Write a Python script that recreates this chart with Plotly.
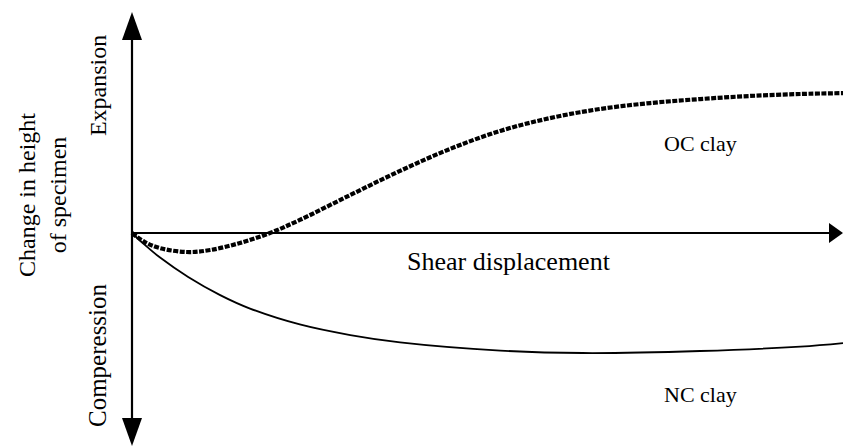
import plotly.graph_objects as go

# Schematic data (arbitrary units): shear displacement vs change in height
oc_x = [0, 0.18, 0.39, 0.77, 1.10, 1.52, 1.94, 2.36, 3.07, 3.77, 4.47, 5.18, 5.88, 6.58, 7.29, 7.99, 8.69, 9.40, 10.0]
oc_y = [0, -0.41, -0.68, -0.86, -0.77, -0.45, 0.0, 0.59, 1.72, 2.81, 3.80, 4.62, 5.20, 5.61, 5.88, 6.06, 6.20, 6.29, 6.33]

nc_x = [0, 0.18, 0.39, 0.79, 1.24, 1.66, 2.36, 3.07, 3.77, 5.18, 6.34, 7.99, 9.40, 10.0]
nc_y = [0, -0.54, -1.10, -1.99, -2.81, -3.42, -4.14, -4.62, -4.95, -5.32, -5.43, -5.34, -5.14, -4.98]

x_label = "Shear displacement"
y_label = "Change in height<br>of specimen"
up_label = "Expansion"
down_label = "Comperession"
oc_label = "OC clay"
nc_label = "NC clay"

FONT = "Liberation Serif"

fig = go.Figure()
fig.add_trace(go.Scatter(x=oc_x, y=oc_y, mode="lines",
                         line=dict(color="black", width=4.2, dash="5px,1.5px", shape="spline", smoothing=1.0),
                         showlegend=False, hoverinfo="skip"))
fig.add_trace(go.Scatter(x=nc_x, y=nc_y, mode="lines",
                         line=dict(color="black", width=1.8, shape="spline", smoothing=1.0),
                         showlegend=False, hoverinfo="skip"))

PX, PY = 71.1, 22.1
X0, X1 = -132 / PX, 10.0
Y1, Y0 = 233 / PY, -(448 - 233) / PY
Y_TOP = (233 - 30) / PY
Y_BOT = (233 - 425) / PY

shapes = [
    dict(type="line", xref="x", yref="y", x0=0, x1=0, y0=Y_BOT, y1=Y_TOP, line=dict(color="black", width=2.2)),
    dict(type="line", xref="x", yref="y", x0=0, x1=9.85, y0=0, y1=0, line=dict(color="black", width=2)),
    dict(type="path", xref="x", yref="y", xsizemode="pixel", ysizemode="pixel", xanchor=0, yanchor=(233 - 12) / PY,
         path="M 0 0 L -10 -28 L 10 -28 Z", fillcolor="black", line=dict(width=0)),
    dict(type="path", xref="x", yref="y", xsizemode="pixel", ysizemode="pixel", xanchor=0, yanchor=(233 - 446) / PY,
         path="M 0 0 L -10 28 L 10 28 Z", fillcolor="black", line=dict(width=0)),
    dict(type="path", xref="x", yref="y", xsizemode="pixel", ysizemode="pixel", xanchor=10.0, yanchor=0,
         path="M 0 0 L -14 10 L -14 -10 Z", fillcolor="black", line=dict(width=0)),
]

def ann(text, x, y, size, angle=0):
    return dict(text=text, x=x, y=y, xref="x", yref="y", showarrow=False, textangle=angle,
                font=dict(family=FONT, size=size, color="black"), xanchor="center", yanchor="middle")

annotations = [
    ann(x_label, 5.30, -1.31, 26),
    ann(oc_label, 7.99, 4.03, 22),
    ann(nc_label, 8.0, -7.29, 22),
    ann(up_label, -0.478, 6.65, 24, -90),
    ann(down_label, -0.478, -5.52, 25, -90),
    ann(y_label, (42 - 132) / PX, (233 - 195) / PY, 24, -90),
]

fig.update_layout(
    width=843, height=448,
    margin=dict(l=0, r=0, t=0, b=0),
    paper_bgcolor="white", plot_bgcolor="white",
    xaxis=dict(range=[X0, X1], visible=False, fixedrange=True),
    yaxis=dict(range=[Y0, Y1], visible=False, fixedrange=True),
    shapes=shapes, annotations=annotations,
    font=dict(family=FONT),
)
fig.write_html("out.html", config={"displayModeBar": False},
               post_script="document.body.style.margin='0';document.body.style.overflow='hidden';")
